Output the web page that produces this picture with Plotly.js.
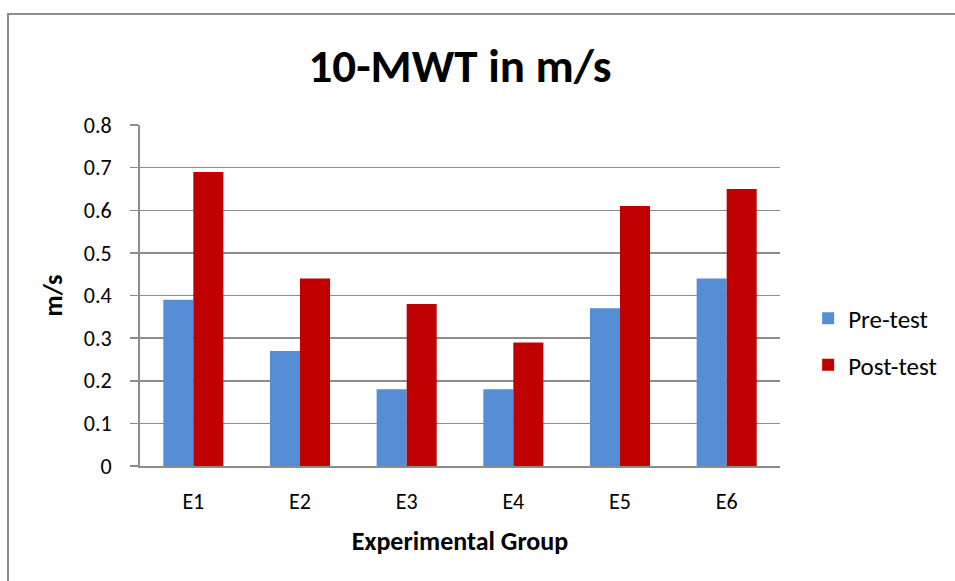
<!DOCTYPE html>
<html>
<head>
<meta charset="utf-8">
<script src="https://cdn.plot.ly/plotly-3.0.1.min.js"></script>
<style>
  html, body { margin: 0; padding: 0; background: #ffffff; overflow: hidden; }
  #wrap { position: relative; width: 955px; height: 581px; }
  #chart { width: 955px; height: 581px; }
  #frame {
    position: absolute; left: 7px; top: 13px; width: 1000px; height: 700px;
    border-left: 2px solid #8c8c8c; border-top: 2px solid #8c8c8c;
    pointer-events: none;
  }
</style>
</head>
<body>
<div id="wrap">
  <div id="chart"></div>
  <div id="frame"></div>
</div>
<script>
// Walking speed (10-metre walk test) per experimental group
const groups = ['E1', 'E2', 'E3', 'E4', 'E5', 'E6'];
const preTest = [0.39, 0.27, 0.18, 0.18, 0.37, 0.44];
const postTest = [0.69, 0.44, 0.38, 0.29, 0.61, 0.65];
const yTicks = [0, 0.1, 0.2, 0.3, 0.4, 0.5, 0.6, 0.7, 0.8];
const yTickText = ['0', '0.1', '0.2', '0.3', '0.4', '0.5', '0.6', '0.7', '0.8'];

const FONT = 'Carlito, Lato, "Open Sans", sans-serif';

const traces = [
  {
    type: 'bar', name: 'Pre-test', x: groups, y: preTest,
    marker: { color: '#558ed5' }, legendgroup: 'a', hoverinfo: 'x+y'
  },
  {
    type: 'bar', name: 'Post-test', x: groups, y: postTest,
    marker: { color: '#c00000' }, legendgroup: 'b', hoverinfo: 'x+y'
  }
];

const layout = {
  width: 955, height: 581,
  margin: { l: 140, r: 175, t: 125, b: 115 },
  paper_bgcolor: '#ffffff', plot_bgcolor: '#ffffff',
  font: { family: FONT, color: '#000000', size: 22 },
  title: {
    text: '<b>10-MWT in m/s</b>',
    font: { family: FONT, size: 47, color: '#000000' },
    x: 0.5, xref: 'paper', xanchor: 'center',
    y: 1 - 66 / 581, yref: 'container', yanchor: 'middle'
  },
  barmode: 'group', bargap: 0.437, bargroupgap: 0,
  xaxis: {
    type: 'category',
    showgrid: false, showline: true, linecolor: '#8c8c8c', linewidth: 2,
    ticks: '', tickfont: { family: FONT, size: 22 }, ticklabelstandoff: 15,
    title: { text: '<b>Experimental Group</b>', font: { family: FONT, size: 26 }, standoff: 17 },
    fixedrange: true
  },
  yaxis: {
    range: [0, 0.8], tickvals: yTicks, ticktext: yTickText,
    showgrid: true, gridcolor: '#8c8c8c', gridwidth: 1.5,
    showline: true, linecolor: '#8c8c8c', linewidth: 2,
    ticks: 'outside', ticklen: 8, tickcolor: '#8c8c8c', tickwidth: 1.5,
    ticklabelstandoff: 14,
    zeroline: false,
    tickfont: { family: FONT, size: 22 },
    title: { text: '<b>m/s</b>', font: { family: FONT, size: 26 }, standoff: 14 },
    fixedrange: true
  },
  showlegend: true,
  legend: {
    x: 1.044, xanchor: 'left', y: 0.365, yanchor: 'middle',
    font: { family: FONT, size: 25 },
    tracegroupgap: 11, bgcolor: 'rgba(0,0,0,0)'
  }
};

Plotly.newPlot('chart', traces, layout, { displayModeBar: false, staticPlot: true });
</script>
</body>
</html>
